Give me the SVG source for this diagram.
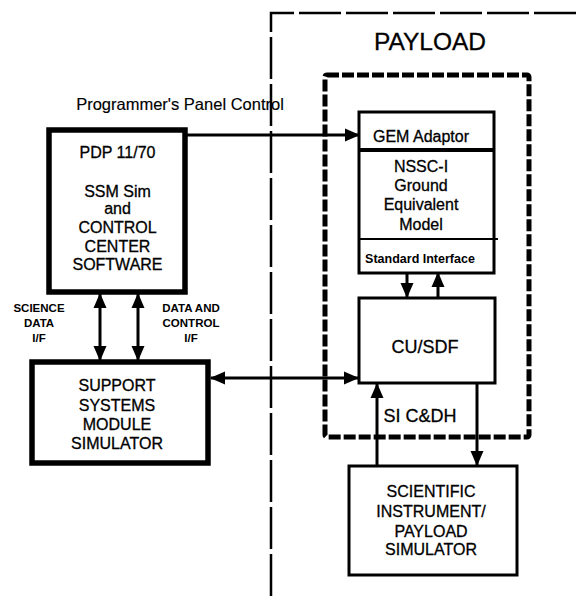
<svg xmlns="http://www.w3.org/2000/svg" width="579" height="596" viewBox="0 0 579 596">
<defs>
<marker id="ah" markerUnits="userSpaceOnUse" markerWidth="15" markerHeight="15" viewBox="0 0 15 15" refX="14" refY="7.5" orient="auto-start-reverse">
<path d="M0,1 L15,7.5 L0,14 Z" fill="#000"/>
</marker>
</defs>
<style>
text{font-family:"Liberation Sans",Arial,sans-serif;fill:#000;text-anchor:middle;stroke:#000;stroke-width:0.3}
.box{fill:#fff;stroke:#000}
.thick{stroke-width:5.5}
.med{stroke-width:3}
.line{stroke:#000;stroke-width:3;fill:none}
.t16{font-size:16px}
.t18{font-size:18px}
.lab{font-size:11.5px;font-weight:bold;stroke-width:0}
</style>
<rect width="579" height="596" fill="#fff"/>
<g id="payload-boundary">
<path d="M271,596 L271,13 L579,13" fill="none" stroke="#000" stroke-width="2.5" stroke-dasharray="42 5"/>
<text x="430" y="50" style="font-size:24.5px">PAYLOAD</text>
</g>
<g id="inner-boundary">
<rect x="325" y="75" width="204" height="362" rx="2" fill="none" stroke="#000" stroke-width="5" stroke-dasharray="12 3"/>
</g>
<g id="panel-label">
<text x="180" y="110" style="font-size:16.5px;stroke-width:0.15">Programmer's Panel Control</text>
</g>
<g id="pdp">
<rect class="box thick" x="49" y="130" width="136" height="162"/>
<text class="t16" x="117.5" y="158">PDP 11/70</text>
<text class="t16" x="117.5" y="197">SSM Sim</text>
<text class="t16" x="117.5" y="214">and</text>
<text class="t16" x="117.5" y="233">CONTROL</text>
<text class="t16" x="117.5" y="252">CENTER</text>
<text class="t16" x="117.5" y="270">SOFTWARE</text>
</g>
<g id="ssms">
<rect class="box thick" x="32" y="362" width="176" height="101"/>
<text class="t16" x="117" y="391">SUPPORT</text>
<text class="t16" x="117" y="411">SYSTEMS</text>
<text class="t16" x="117" y="430">MODULE</text>
<text class="t16" x="117" y="449">SIMULATOR</text>
</g>
<g id="nssc">
<rect class="box med" x="359" y="112" width="135" height="161"/>
<line x1="359" y1="150" x2="494" y2="150" stroke="#000" stroke-width="4"/>
<line x1="359" y1="239" x2="498" y2="239" stroke="#000" stroke-width="2"/>
<text class="t16" x="421" y="142">GEM Adaptor</text>
<text class="t16" x="421" y="172">NSSC-I</text>
<text class="t16" x="421" y="191">Ground</text>
<text class="t16" x="421" y="210">Equivalent</text>
<text class="t16" x="421" y="230">Model</text>
<text x="420" y="263" style="font-size:12.5px;font-weight:bold;stroke-width:0">Standard Interface</text>
</g>
<g id="cusdf">
<rect class="box med" x="359" y="298" width="136" height="85"/>
<text class="t18" x="425" y="353">CU/SDF</text>
</g>
<g id="sicdh-label">
<text class="t18" x="420" y="422">SI C&amp;DH</text>
</g>
<g id="sim">
<rect class="box med" x="349" y="466" width="168" height="109"/>
<text class="t16" x="431" y="497">SCIENTIFIC</text>
<text class="t16" x="431" y="517">INSTRUMENT/</text>
<text class="t16" x="431" y="537">PAYLOAD</text>
<text class="t16" x="431" y="555">SIMULATOR</text>
</g>
<g id="connectors">
<line class="line" x1="187" y1="135" x2="359" y2="135" marker-end="url(#ah)"/>
<line class="line" x1="100" y1="294" x2="100" y2="360" marker-start="url(#ah)" marker-end="url(#ah)"/>
<line class="line" x1="138" y1="294" x2="138" y2="360" marker-start="url(#ah)" marker-end="url(#ah)"/>
<line class="line" x1="211" y1="378" x2="358" y2="378" marker-start="url(#ah)" marker-end="url(#ah)"/>
<line class="line" x1="407" y1="273" x2="407" y2="297" marker-end="url(#ah)"/>
<line class="line" x1="438" y1="298" x2="438" y2="273" marker-end="url(#ah)"/>
<line class="line" x1="377" y1="465" x2="377" y2="384" marker-end="url(#ah)"/>
<line class="line" x1="477" y1="384" x2="477" y2="465" marker-end="url(#ah)"/>
</g>
<g id="if-labels">
<text class="lab" x="39" y="312">SCIENCE</text>
<text class="lab" x="39" y="327">DATA</text>
<text class="lab" x="39" y="342">I/F</text>
<text class="lab" x="191" y="312">DATA AND</text>
<text class="lab" x="191" y="327">CONTROL</text>
<text class="lab" x="191" y="342">I/F</text>
</g>
</svg>
